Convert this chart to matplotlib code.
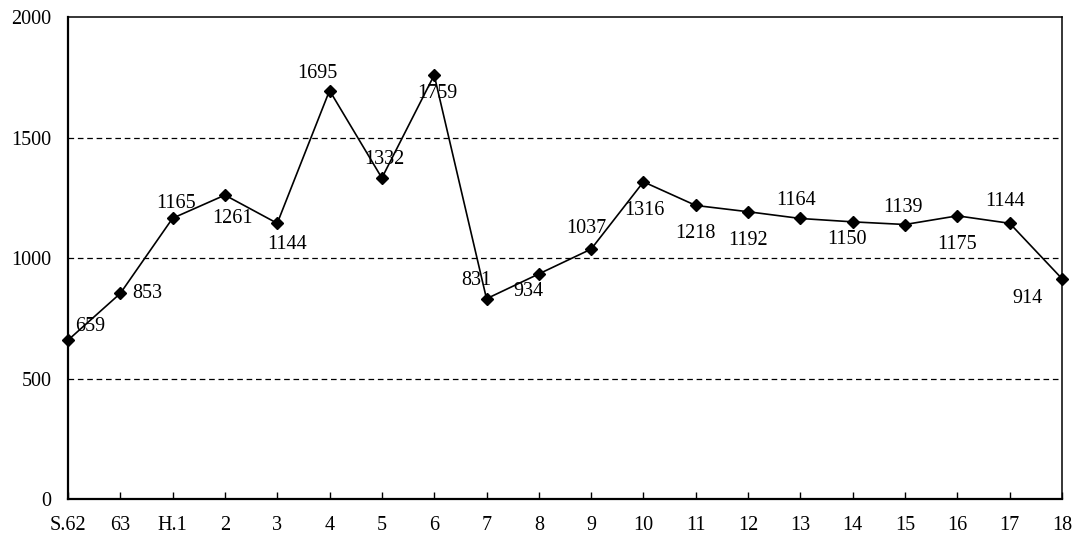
import matplotlib
matplotlib.use("Agg")
import matplotlib.pyplot as plt

plt.rcParams['font.family'] = ['Liberation Serif', 'DejaVu Serif']

# 年度と件数
years = ['S.62', '63', 'H.1', '2', '3', '4', '5', '6', '7', '8', '9',
         '10', '11', '12', '13', '14', '15', '16', '17', '18']
counts = [659, 853, 1165, 1261, 1144, 1695, 1332, 1759, 831, 934, 1037,
          1316, 1218, 1192, 1164, 1150, 1139, 1175, 1144, 914]

# ラベルのずらし量 (px)
offsets = [(22, 14), (27, 0), (3, 15), (8, -23), (10, -21), (-12, 17),
           (2, 18), (3, -18), (-10, 18), (-10, -18), (-5, 21), (1, -29),
           (0, -28), (0, -29), (-4, 18), (-6, -18), (-2, 17), (0, -29),
           (-5, 22), (-35, -20)]

FS = 14.5

fig = plt.figure(figsize=(10.77, 5.43), dpi=100)
ax = fig.add_axes([0.0631, 0.0810, 0.9230, 0.8877])

x = list(range(len(years)))
ax.plot(x, counts, color='black', lw=1.2, marker='D', markersize=6.5,
        markerfacecolor='black', markeredgecolor='black', zorder=3,
        clip_on=False)

for xi, v, (dx, dy) in zip(x, counts, offsets):
    ax.annotate(str(v), (xi, v), xytext=(dx * 0.72, dy * 0.72),
                textcoords='offset points', ha='center', va='center',
                fontsize=FS, zorder=4)

ax.set_xlim(0, len(years) - 1)
ax.set_ylim(0, 2000)
ax.set_yticks([0, 500, 1000, 1500, 2000])
ax.set_xticks(x)
ax.set_xticklabels(years)

for y in (500, 1000, 1500):
    ax.axhline(y, color='black', lw=0.9, linestyle=(0, (4.5, 3)), zorder=1)

ax.tick_params(axis='x', direction='in', length=5, width=1, pad=12,
               labelsize=FS)
ax.tick_params(axis='y', length=0, pad=12, labelsize=FS)

ax.spines['left'].set_linewidth(1.6)
ax.spines['bottom'].set_linewidth(1.6)
ax.spines['top'].set_linewidth(1.1)
ax.spines['right'].set_linewidth(1.1)

fig.savefig('out.png', dpi=100)
